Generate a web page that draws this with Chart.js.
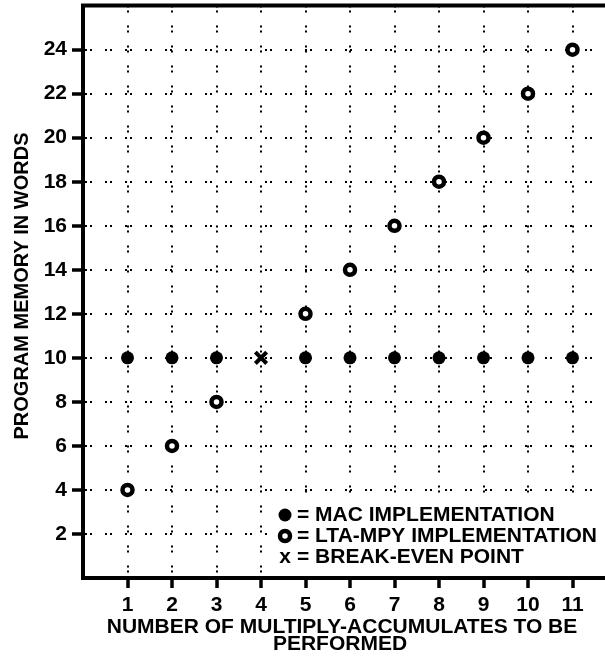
<!DOCTYPE html>
<html lang="en">
<head>
  <meta charset="UTF-8">
  <title>Program Memory vs Multiply-Accumulates</title>
  <script src="https://cdn.jsdelivr.net/npm/chart.js"></script>
  <style>
    html, body { margin: 0; padding: 0; background: #fff; overflow: hidden; }
    #wrap { width: 605px; height: 662px; overflow: hidden; }
    #box { width: 630px; height: 662px; }
  </style>
</head>
<body>
  <div id="wrap"><div id="box"><canvas id="memChart"></canvas></div></div>

  <script>
    // chart values
    const xTicks = [1, 2, 3, 4, 5, 6, 7, 8, 9, 10, 11];
    const yTicks = [2, 4, 6, 8, 10, 12, 14, 16, 18, 20, 22, 24];
    const macX = [1, 2, 3, 5, 6, 7, 8, 9, 10, 11];
    const macY = [10, 10, 10, 10, 10, 10, 10, 10, 10, 10];
    const ltaX = [1, 2, 3, 5, 6, 7, 8, 9, 10, 11];
    const ltaY = [4, 6, 8, 12, 14, 16, 18, 20, 22, 24];
    const evenX = [4];
    const evenY = [10];
    const legendLabels = ['= MAC IMPLEMENTATION', '= LTA-MPY IMPLEMENTATION', '= BREAK-EVEN POINT'];
    const yTitle = 'PROGRAM MEMORY IN WORDS';
    const xTitleLines = ['NUMBER OF MULTIPLY-ACCUMULATES TO BE', 'PERFORMED'];

    const FONT = '"Liberation Sans", Arial, sans-serif';
    const dots = [2, 3, 2, 13];

    function pts(xs, ys) {
      return xs.map((x, i) => ({ x: x, y: ys[i] }));
    }

    function text(ctx, str, x, y, size, sx, align, rot) {
      ctx.save();
      ctx.translate(x, y);
      if (rot) ctx.rotate(rot);
      ctx.scale(sx, 1);
      ctx.font = 'bold ' + size + 'px ' + FONT;
      ctx.textAlign = align;
      ctx.textBaseline = 'middle';
      ctx.fillStyle = '#000';
      ctx.fillText(str, 0, 0);
      ctx.restore();
    }

    // unlabelled end ticks get a tiny font so they add no padding
    function tickFont(list) {
      return (c) => (c.tick && list.includes(c.tick.value))
        ? { family: FONT, size: 21, weight: 'bold' }
        : { family: FONT, size: 1 };
    }

    // frame top line, legend box, titles
    const extras = {
      id: 'extras',
      afterDatasetsDraw(chart) {
        const ctx = chart.ctx;
        const a = chart.chartArea;
        // legend sits on a white patch covering the grid
        ctx.save();
        ctx.fillStyle = '#fff';
        ctx.fillRect(268, 499, a.right - 268, a.bottom - 499 - 2);
        ctx.restore();

        const lx = 285, rows = [515, 536, 557];
        ctx.save();
        ctx.fillStyle = '#000';
        ctx.beginPath();
        ctx.arc(lx, rows[0], 6.5, 0, Math.PI * 2);
        ctx.fill();
        ctx.lineWidth = 4.5;
        ctx.strokeStyle = '#000';
        ctx.fillStyle = '#fff';
        ctx.beginPath();
        ctx.arc(lx, rows[1], 5, 0, Math.PI * 2);
        ctx.fill();
        ctx.stroke();
        ctx.restore();
        text(ctx, 'x', lx, rows[2], 21, 1, 'center');
        legendLabels.forEach((s, i) => text(ctx, s, 297, rows[i], 21, 1.0, 'left'));

        // top frame
        ctx.save();
        ctx.strokeStyle = '#000';
        ctx.lineWidth = 4;
        ctx.beginPath();
        ctx.moveTo(a.left - 2, a.top);
        ctx.lineTo(a.right + 20, a.top);
        ctx.stroke();
        ctx.restore();

        text(ctx, yTitle, 22, 286, 20, 1, 'center', -Math.PI / 2);
        text(ctx, xTitleLines[0], 342, 627, 21, 1.0, 'center');
        text(ctx, xTitleLines[1], 340, 644, 21, 1.0, 'center');
      }
    };

    const ctx = document.getElementById('memChart').getContext('2d');
    const memChart = new Chart(ctx, {
      type: 'scatter',
      data: {
        datasets: [
          {
            label: 'MAC IMPLEMENTATION',
            data: pts(macX, macY),
            pointStyle: 'circle',
            pointRadius: 6.5,
            pointBorderWidth: 0,
            backgroundColor: '#000',
            borderColor: '#000'
          },
          {
            label: 'LTA-MPY IMPLEMENTATION',
            data: pts(ltaX, ltaY),
            pointStyle: 'circle',
            pointRadius: 5,
            pointBorderWidth: 4.5,
            backgroundColor: '#fff',
            borderColor: '#000'
          },
          {
            label: 'BREAK-EVEN POINT',
            data: pts(evenX, evenY),
            pointStyle: 'crossRot',
            pointRadius: 8,
            pointBorderWidth: 4,
            backgroundColor: '#000',
            borderColor: '#000'
          }
        ]
      },
      options: {
        responsive: true,
        maintainAspectRatio: false,
        animation: false,
        events: [],
        layout: { autoPadding: false, padding: { top: 5.5, right: 13, left: 0, bottom: 0 } },
        plugins: {
          legend: { display: false },
          tooltip: { enabled: false }
        },
        scales: {
          x: {
            type: 'linear',
            min: 0,
            max: 12,
            afterFit: (s) => { s.height = 84; },
            ticks: {
              stepSize: 1,
              padding: 5,
              color: '#000',
              font: tickFont(xTicks),
              callback: (v) => xTicks.includes(v) ? String(v) : ''
            },
            grid: {
              color: (c) => xTicks.includes(c.tick.value) ? '#000' : 'rgba(0,0,0,0)',
              lineWidth: 2,
              tickColor: (c) => xTicks.includes(c.tick.value) ? '#000' : 'rgba(0,0,0,0)',
              tickLength: 10,
              tickWidth: 3.5,
              tickBorderDash: []
            },
            border: { display: true, color: '#000', width: 4, dash: dots }
          },
          y: {
            type: 'linear',
            min: 0,
            max: 26,
            afterFit: (s) => { s.width = 83; },
            ticks: {
              stepSize: 2,
              padding: 5,
              color: '#000',
              font: tickFont(yTicks),
              callback: (v) => yTicks.includes(v) ? String(v) : ''
            },
            grid: {
              color: (c) => yTicks.includes(c.tick.value) ? '#000' : 'rgba(0,0,0,0)',
              lineWidth: 2,
              tickColor: (c) => yTicks.includes(c.tick.value) ? '#000' : 'rgba(0,0,0,0)',
              tickLength: 11,
              tickWidth: 3.5,
              tickBorderDash: []
            },
            border: { display: true, color: '#000', width: 4, dash: dots }
          }
        }
      },
      plugins: [extras]
    });
  </script>
</body>
</html>
